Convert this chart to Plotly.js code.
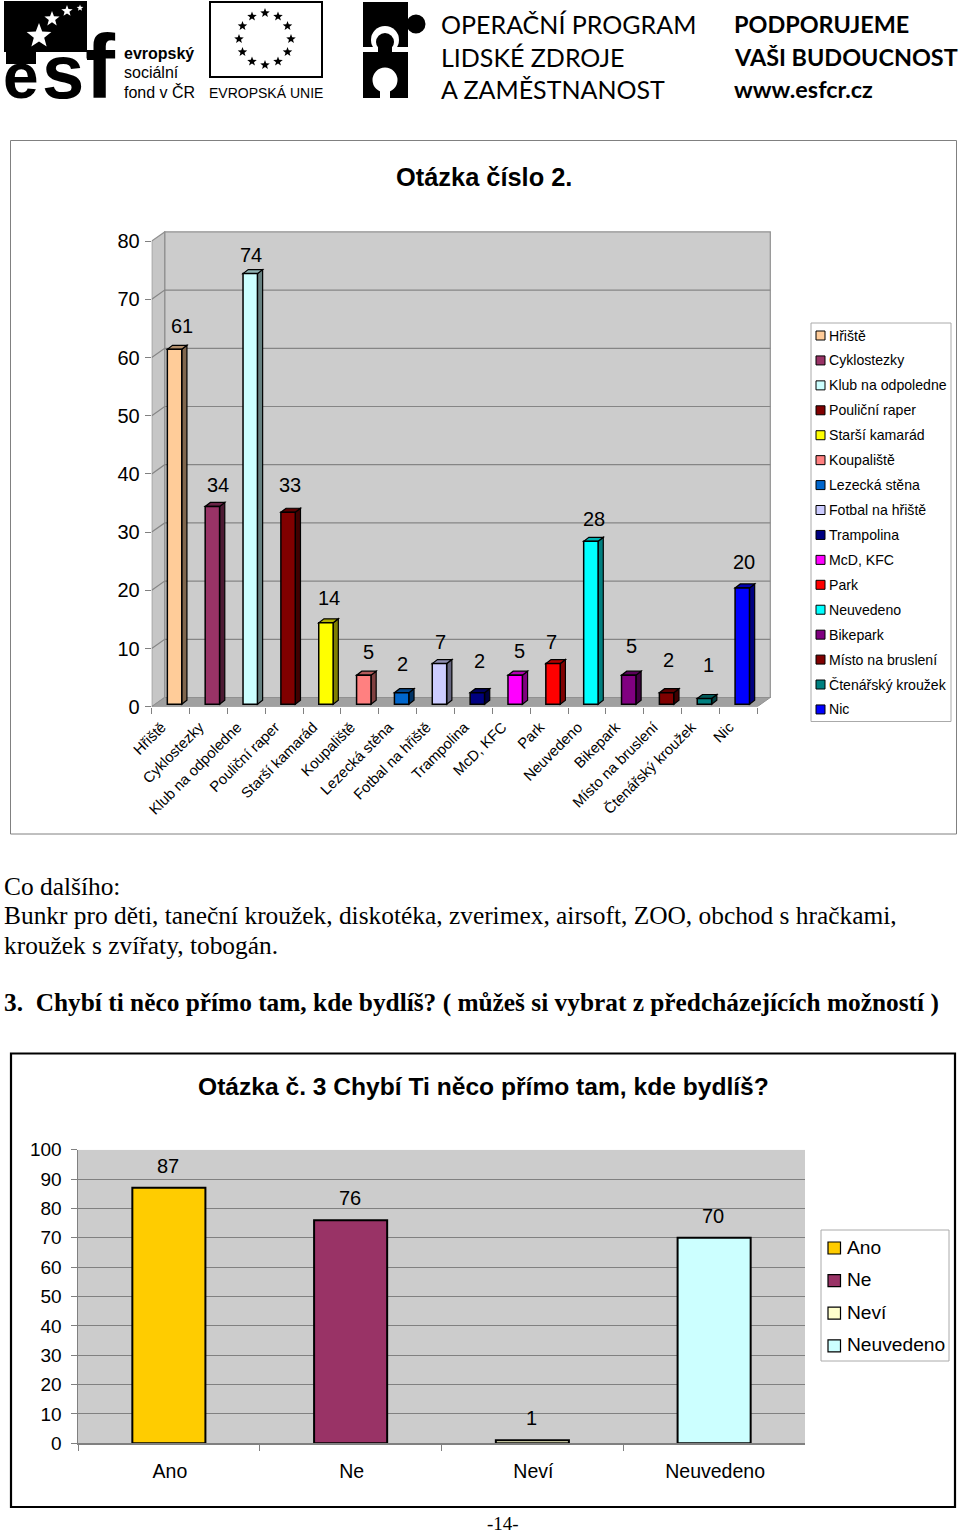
<!DOCTYPE html>
<html><head><meta charset="utf-8">
<script src="https://cdn.plot.ly/plotly-3.0.1.min.js"></script>
<style>html,body{margin:0;padding:0;background:#fff}#c{width:960px;height:1534px}</style>
</head><body><div id="c"></div>
<script>
// ---- data ----
const categories1 = ["Hřiště","Cyklostezky","Klub na odpoledne","Pouliční raper","Starší kamarád","Koupaliště","Lezecká stěna","Fotbal na hřiště","Trampolina","McD, KFC","Park","Neuvedeno","Bikepark","Místo na bruslení","Čtenářský kroužek","Nic"];
const values1 = [61,34,74,33,14,5,2,7,2,5,7,28,5,2,1,20];
const categories2 = ["Ano","Ne","Neví","Neuvedeno"];
const values2 = [87,76,1,70];
const title1 = "Otázka číslo 2.";
const title2 = "Otázka č. 3 Chybí Ti něco přímo tam, kde bydlíš?";
const bodyLines = ["Co dalšího:","Bunkr pro děti, taneční kroužek, diskotéka, zverimex, airsoft, ZOO, obchod s hračkami,","kroužek s zvířaty, tobogán."];
const questionLine = "3.  Chybí ti něco přímo tam, kde bydlíš? ( můžeš si vybrat z předcházejících možností )";
const pageNumber = "-14-";
// ---- styles ----
const colors1 = ["#FFCC99","#993366","#CCFFFF","#800000","#FFFF00","#FF8080","#0066CC","#CCCCFF","#000080","#FF00FF","#FF0000","#00FFFF","#800080","#800000","#008080","#0000FF"];
const colors2 = ["#FFCC00","#993366","#FFFFCC","#CCFFFF"];
const labelNudgeX = [7.5,6,1,2,3,5,1,1,2,4,-2,3,3,2,4,2];
const labelNudgeY = [23,21,19,27,25,23,29,22,32,24,22,22,29,33,33,26];
const W=960,H=1534;
const SANS='"Liberation Sans",Arial,sans-serif', SERIF='"Liberation Serif","Times New Roman",serif', HUMAN='Lato,"Liberation Sans",sans-serif';
const fx=x=>x/W, fy=y=>1-y/H;
function shade(hex,f){const n=parseInt(hex.slice(1),16);const c=[n>>16,(n>>8)&255,n&255].map(v=>Math.round(v*f));return `rgb(${c[0]},${c[1]},${c[2]})`;}
const shapes=[], annotations=[];
function rectP(x0,y0,x1,y1,fill,line,lw){shapes.push({type:'rect',xref:'paper',yref:'paper',x0:fx(x0),x1:fx(x1),y0:fy(y0),y1:fy(y1),fillcolor:fill,line:{color:line||fill,width:line?(lw||1):0},layer:'below'});}
function circP(cx,cy,rx,ry,fill){shapes.push({type:'circle',xref:'paper',yref:'paper',x0:fx(cx-rx),x1:fx(cx+rx),y0:fy(cy-ry),y1:fy(cy+ry),fillcolor:fill,line:{width:0},layer:'below'});}
function polyP(pts,fill){shapes.push({type:'path',xref:'paper',yref:'paper',path:'M'+pts.map(p=>fx(p[0])+','+fy(p[1])).join('L')+'Z',fillcolor:fill,line:{width:0},layer:'below'});}
function star(cx,cy,r,fill){const pts=[];for(let i=0;i<10;i++){const a=-Math.PI/2+i*Math.PI/5,q=i%2?r*0.42:r;pts.push([cx+q*Math.cos(a),cy+q*Math.sin(a)]);}polyP(pts,fill);}
function textP(t,x,y,size,opts){opts=opts||{};annotations.push({xref:'paper',yref:'paper',x:fx(x),y:fy(y),text:t,showarrow:false,xanchor:opts.anchor||'left',yanchor:'middle',borderpad:0,font:{family:opts.family||SANS,size:size,color:opts.color||'#000'}});}

// ---- header logos ----
rectP(4,1,87,52,'#000');
star(39,36,13,'#fff');star(52,19,8,'#fff');star(67,11,6,'#fff');star(80,8,3.5,'#fff');
rectP(6,50,36,64,'#000');rectP(87,52,100,60,'#000');
textP('<b>e</b>',21,76,64,{anchor:'center'});
textP('<b>s</b>',63,72,76,{anchor:'center'});
textP('<b>f</b>',100,67,90,{anchor:'center'});
textP('<b>evropský</b>',123,54,16);textP('sociální',123,73,16);textP('fond v ČR',123,92,16);
rectP(210,2,322,77,'#fff','#000',2);
for(let i=0;i<12;i++){const a=i*Math.PI/6;star(265+26*Math.sin(a),39-26*Math.cos(a),5,'#000');}
textP('EVROPSKÁ UNIE',208,93,14);
rectP(363,2,408,47,'#000');rectP(405,20,412,28,'#000');circP(416,24,9.5,9.5,'#000');
circP(385,40,14,14,'#fff');circP(385,42,9,9,'#000');
rectP(363,52,408,98,'#000');rectP(378,45,392,60,'#000');
circP(385,80,12.5,12.5,'#fff');rectP(380,84,390,98,'#fff');
textP('OPERAČNÍ PROGRAM',440,24.5,25,{family:HUMAN});
textP('LIDSKÉ ZDROJE',440,56.5,25,{family:HUMAN});
textP('A ZAMĚSTNANOST',440,88.5,25,{family:HUMAN});
textP('<b>PODPORUJEME</b>',733,24.5,23.4,{family:HUMAN});
textP('<b>VAŠI BUDOUCNOST</b>',733,56.5,23.4,{family:HUMAN});
textP('<b>www.esfcr.cz</b>',733,88.5,23.4,{family:HUMAN});

// ---- chart frames and page text ----
rectP(10.5,140.5,956.5,834,'#fff','#808080',1);
rectP(11,1053.5,955,1507,'#fff','#000',2.2);
textP('<b>'+title1+'</b>',484,177,25.4,{anchor:'center'});
textP(bodyLines[0],3,885.5,25.4,{family:SERIF});
textP(bodyLines[1],3,914.5,25.4,{family:SERIF});
textP(bodyLines[2],3,944.5,25.4,{family:SERIF});
textP('<b>'+questionLine+'</b>',3,1002.5,25.35,{family:SERIF});
textP('<b>'+title2+'</b>',483,1086,24.6,{anchor:'center'});
textP(pageNumber,503,1523,19,{family:SERIF,anchor:'center'});

// ---- chart 1 scale (pixels per unit) ----
const catPx=37.85, unitPx=5.82, x0Px=151.7, y0Px=706.7, rightPx=771.8, topPx=231;
const depthX=13/catPx, depthY=9.2/unitPx;      // wall depth
const barW=14.4/catPx, barOff=-3.3/catPx;      // bar left relative to category centre is barOff
const faceX=5.2/catPx, faceY=4/unitPx, lift=2.4/unitPx; // bar side depth and lift off front edge
const n1=categories1.length, xL=-0.5, xR=n1-0.5;
const axisShape=(path,fill,line,lw)=>shapes.push({type:'path',xref:'x',yref:'y',path,fillcolor:fill||'rgba(0,0,0,0)',line:{color:line||'rgba(0,0,0,0)',width:lw===undefined?1:lw},layer:'below'});
const pth=pts=>'M'+pts.map(p=>p[0]+','+p[1]).join('L');
// walls and floor
axisShape(pth([[xL+depthX,depthY],[xR+depthX,depthY],[xR+depthX,80+depthY],[xL+depthX,80+depthY]])+'Z','#CCCCCC','#909090',1.2);
axisShape(pth([[xL,0],[xL+depthX,depthY],[xL+depthX,80+depthY],[xL,80]])+'Z','#C6C6C6','#909090',1.2);
axisShape(pth([[xL,0],[xR,0],[xR+depthX,depthY],[xL+depthX,depthY]])+'Z','#A0A0A0','#909090',1);
for(let v=10;v<=70;v+=10){
  axisShape(pth([[xL,v],[xL+depthX,v+depthY],[xR+depthX,v+depthY]]),null,'#858585',1.2);
}
// bar depth faces, computed from the values
values1.forEach((v,i)=>{
  const l=i+barOff,r=l+barW,t=v+lift;
  axisShape(pth([[r,lift],[r+faceX,lift+faceY],[r+faceX,t+faceY],[r,t]])+'Z',shade(colors1[i],0.5),'#000',1.2);
  axisShape(pth([[l,t],[r,t],[r+faceX,t+faceY],[l+faceX,t+faceY]])+'Z',shade(colors1[i],0.7),'#000',1.2);
  annotations.push({xref:'x',yref:'y',x:l+barW/2,y:t,yanchor:'middle',xanchor:'center',xshift:labelNudgeX[i],yshift:labelNudgeY[i],text:String(v),showarrow:false,font:{family:SANS,size:20,color:'#000'}});
});
// legend 1
rectP(811,323,951,721.5,'#fff','#AAAAAA',1);
categories1.forEach((c,i)=>{
  const y=335.5+i*24.93;
  rectP(816,y-4.5,825,y+4.5,colors1[i],'#000',1);
  textP(c,828,y,14.1);
});
// ---- chart 2 ----
const n2=categories2.length;
shapes.push({type:'rect',xref:'x2',yref:'y2',x0:-0.5,x1:n2-0.5,y0:0,y1:100,fillcolor:'#CCCCCC',line:{width:0},layer:'below'});
values2.forEach((v,i)=>{
  annotations.push({xref:'x2',yref:'y2',x:i,y:v,yanchor:'middle',xanchor:'center',yshift:22,xshift:-1,text:String(v),showarrow:false,font:{family:SANS,size:20,color:'#000'}});
});
rectP(821,1230,949,1361,'#fff','#AAAAAA',1);
categories2.forEach((c,i)=>{
  const y=1248+i*32.6;
  rectP(828,y-6,840.5,y+6,colors2[i],'#000',1.2);
  textP(c,846,y-1,19.2);
});

const traces=[
 {type:'bar',x:categories1,y:values1,base:values1.map(()=>lift),width:barW,offset:barOff,xaxis:'x',yaxis:'y',marker:{color:colors1,line:{color:'#000',width:1.5}},hoverinfo:'skip',showlegend:false},
 {type:'bar',x:categories2,y:values2,width:0.402,offset:-0.201,xaxis:'x2',yaxis:'y2',marker:{color:colors2,line:{color:'#000',width:2}},hoverinfo:'skip',showlegend:false}
];
const layout={
 width:W,height:H,margin:{l:0,r:0,t:0,b:0,pad:0},paper_bgcolor:'#fff',plot_bgcolor:'rgba(0,0,0,0)',barmode:'overlay',showlegend:false,
 xaxis:{domain:[fx(x0Px),fx(rightPx)],anchor:'y',type:'category',range:[xL,xL+(rightPx-x0Px)/catPx],tickson:'boundaries',ticks:'outside',ticklen:6,tickcolor:'#808080',tickwidth:1,tickangle:-45,showgrid:false,zeroline:false,showline:false,automargin:false,ticklabelshift:-9,ticklabelstandoff:8,tickfont:{family:SANS,size:14.8,color:'#000'},fixedrange:true},
 yaxis:{domain:[fy(y0Px),fy(topPx)],anchor:'x',range:[0,(y0Px-topPx)/unitPx],tickmode:'linear',tick0:0,dtick:10,ticks:'outside',ticklen:6,tickcolor:'#808080',tickwidth:1,showgrid:false,zeroline:false,showline:false,automargin:false,ticklabelstandoff:1,tickfont:{family:SANS,size:20,color:'#000'},fixedrange:true},
 xaxis2:{domain:[fx(78),fx(805)],anchor:'y2',type:'category',range:[-0.5,n2-0.5],tickson:'boundaries',ticks:'outside',ticklen:6,tickcolor:'#808080',tickwidth:1,showgrid:false,zeroline:false,showline:true,linecolor:'#808080',linewidth:1.5,automargin:false,ticklabelstandoff:10,ticklabelshift:1,tickfont:{family:SANS,size:19.5,color:'#000'},fixedrange:true},
 yaxis2:{domain:[fy(1443.3),fy(1149.7)],anchor:'x2',range:[0,100],tickmode:'linear',tick0:0,dtick:10,ticks:'outside',ticklen:6,tickcolor:'#808080',tickwidth:1,showgrid:true,gridcolor:'#808080',gridwidth:1,zeroline:false,showline:true,linecolor:'#808080',linewidth:1.5,automargin:false,ticklabelstandoff:5,tickfont:{family:SANS,size:19,color:'#000'},fixedrange:true},
 shapes,annotations
};
Plotly.newPlot('c',traces,layout,{displayModeBar:false,staticPlot:true});
</script></body></html>
